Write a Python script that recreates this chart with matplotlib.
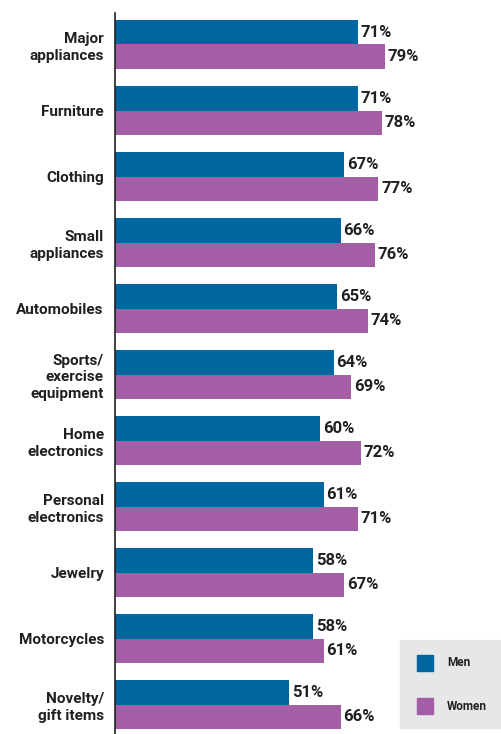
import matplotlib
matplotlib.use("Agg")
import matplotlib.pyplot as plt
from matplotlib.patches import Rectangle

categories = ["Major\nappliances", "Furniture", "Clothing", "Small\nappliances",
              "Automobiles", "Sports/\nexercise\nequipment", "Home\nelectronics",
              "Personal\nelectronics", "Jewelry", "Motorcycles", "Novelty/\ngift items"]
men = [71, 71, 67, 66, 65, 64, 60, 61, 58, 58, 51]
women = [79, 78, 77, 76, 74, 69, 72, 71, 67, 61, 66]
series_names = ["Men", "Women"]

BLUE = "#00669f"
PURPLE = "#a35ea6"
TXT = "#231f20"
FONT = ["Roboto", "DejaVu Sans"]

W, H = 501, 734
fig = plt.figure(figsize=(W / 100, H / 100), dpi=100)
left, top = 115, 13
ax = fig.add_axes([left / W, 0, (W - left) / W, (H - top) / H])

bh = 0.372
ypos = list(range(len(categories)))
ax.barh([y - bh / 2 for y in ypos], men, height=bh, color=BLUE, zorder=2)
ax.barh([y + bh / 2 for y in ypos], women, height=bh, color=PURPLE, zorder=2)

for y, m, w in zip(ypos, men, women):
    ax.text(m + 0.8, y - bh / 2, f"{m}%", va="center", ha="left", fontsize=12,
            fontweight="bold", color=TXT, family=FONT)
    ax.text(w + 0.8, y + bh / 2, f"{w}%", va="center", ha="left", fontsize=12,
            fontweight="bold", color=TXT, family=FONT)

ax.set_xlim(0, (W - left) / 3.42)
ax.set_ylim(10.445, -0.477)
ax.set_yticks(ypos)
ax.set_yticklabels(categories, fontsize=11, fontweight="bold", color=TXT,
                   family=FONT, linespacing=1.25)
ax.tick_params(axis="y", length=0, pad=8)
ax.set_xticks([])
for s in ["top", "right", "bottom"]:
    ax.spines[s].set_visible(False)
ax.spines["left"].set_color("#231f20")
ax.spines["left"].set_linewidth(1.2)

# legend box
lx0, ly0, lx1, ly1 = 400, 640, 501, 728
fig.patches.append(Rectangle((lx0 / W, 1 - ly1 / H), (lx1 - lx0) / W, (ly1 - ly0) / H,
                             transform=fig.transFigure, color="#e6e7e8", zorder=0))
for name, col, yc in zip(series_names, [BLUE, PURPLE], [663, 706]):
    fig.patches.append(Rectangle((417 / W, 1 - (yc + 8) / H), 16 / W, 16 / H,
                                 transform=fig.transFigure, color=col, zorder=1))
    fig.text(447 / W, 1 - yc / H, name, fontsize=8.5, fontweight="bold", color=TXT,
             family=FONT, va="center", ha="left")

fig.savefig("out.png", dpi=100)
